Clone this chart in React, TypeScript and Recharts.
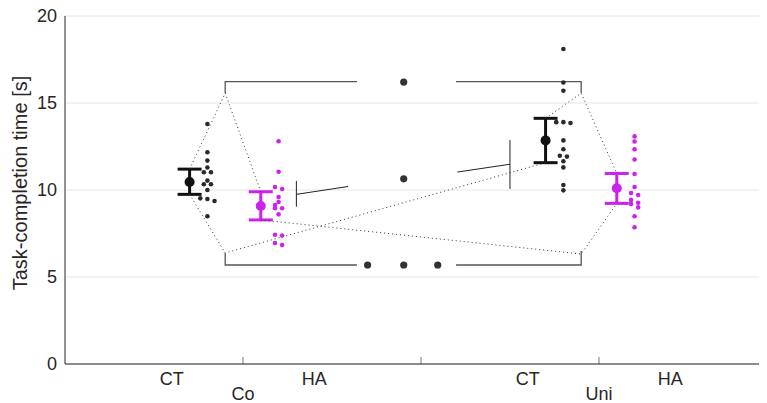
import React from 'react';
import { ComposedChart, Scatter, XAxis, YAxis, CartesianGrid, ErrorBar, ReferenceLine } from 'recharts';

// ---- data ----
const groups = ['Co', 'Uni'];
const groupCenters = [1, 3];
const conditions = ['CT', 'HA'];
const conditionTickPos = [0.6, 1.4, 2.6, 3.4];
const dividerTicks = [1, 2, 3];
const yTicks = [0, 5, 10, 15, 20];

// individual participants (seconds) and beeswarm offsets
const coCTTimes = [13.79, 12.17, 11.69, 11.29, 11.02, 11.02, 10.54, 10.33, 10.33, 10.0, 9.52, 9.48, 9.37, 8.49];
const coCTJitter = [0, 0, 0, 0, -0.02, 0.02, 0, -0.02, 0.02, 0, -0.04, 0, 0.04, 0];
const coHATimes = [12.8, 11.05, 10.17, 10.06, 9.6, 9.31, 9.14, 8.95, 8.95, 8.6, 7.43, 7.38, 6.95, 6.84];
const coHAJitter = [0, 0, -0.02, 0.02, 0, 0, -0.02, -0.02, 0.02, 0, -0.02, 0.02, -0.02, 0.02];
const uniCTTimes = [18.1, 16.18, 15.7, 13.9, 13.9, 13.85, 12.85, 12.34, 11.97, 11.92, 11.65, 11.3, 10.29, 9.98];
const uniCTJitter = [0, 0, 0, -0.04, 0, 0.04, 0, 0, -0.02, 0.02, 0, 0, 0, 0];
const uniHATimes = [13.08, 12.79, 12.34, 11.75, 10.92, 10.17, 9.83, 9.71, 9.43, 9.27, 9.2, 9.0, 8.49, 7.86];
const uniHAJitter = [0, 0, 0, 0, 0, 0, -0.02, 0.02, -0.02, 0.02, -0.02, 0.02, 0, 0];

// means and confidence intervals [lower, upper]
const meanX = [0.7, 1.1, 2.7, 3.1];
const meanValues = [10.46, 9.08, 12.85, 10.1];
const ciLower = [9.75, 8.28, 11.57, 9.23];
const ciUpper = [11.2, 9.9, 14.12, 10.95];
const swarmX = [0.8, 1.2, 2.8, 3.2];

// annotation geometry in data units
const bracketTopLeft = [{ x: 0.9, y: 15.57 }, { x: 0.9, y: 16.23 }, { x: 1.64, y: 16.23 }];
const bracketTopRight = [{ x: 2.197, y: 16.23 }, { x: 2.9, y: 16.23 }, { x: 2.9, y: 15.57 }];
const bracketBottomLeft = [{ x: 0.9, y: 6.38 }, { x: 0.9, y: 5.69 }, { x: 1.64, y: 5.69 }];
const bracketBottomRight = [{ x: 2.197, y: 5.69 }, { x: 2.9, y: 5.69 }, { x: 2.9, y: 6.5 }];
const markerDots = [{ x: 1.903, y: 16.2 }, { x: 1.903, y: 10.64 }, { x: 1.7, y: 5.69 }, { x: 1.903, y: 5.69 }, { x: 2.094, y: 5.69 }];
const slopeLeftBar = [{ x: 1.3, y: 10.52 }, { x: 1.3, y: 9.04 }];
const slopeLeftLine = [{ x: 1.3, y: 9.75 }, { x: 1.59, y: 10.2 }];
const slopeRightLine = [{ x: 2.204, y: 11.03 }, { x: 2.5, y: 11.48 }];
const slopeRightBar = [{ x: 2.5, y: 12.87 }, { x: 2.5, y: 10.06 }];
const dottedA = [{ x: 0.7, y: 11.2 }, { x: 0.9, y: 15.57 }, { x: 1.1, y: 9.9 }];
const dottedB = [{ x: 0.7, y: 9.75 }, { x: 0.9, y: 6.38 }, { x: 2.7, y: 11.57 }];
const dottedC = [{ x: 2.7, y: 14.12 }, { x: 2.9, y: 15.57 }, { x: 3.1, y: 10.95 }];
const dottedD = [{ x: 1.1, y: 8.28 }, { x: 2.9, y: 6.32 }, { x: 3.1, y: 9.23 }];

const BLACK = '#111111';
const DOT = '#2a2a2a';
const MAGENTA = '#cc22ee';
const FONT = '"Liberation Sans", Arial, Helvetica, sans-serif';

const swarm = (times: number[], jitter: number[], base: number) =>
  times.map((y, i) => ({ x: base + jitter[i], y }));

const meanData = meanX.map((x, i) => ({
  x,
  y: meanValues[i],
  err: [meanValues[i] - ciLower[i], ciUpper[i] - meanValues[i]],
}));

const swarms = [
  { data: swarm(coCTTimes, coCTJitter, swarmX[0]), color: DOT },
  { data: swarm(coHATimes, coHAJitter, swarmX[1]), color: MAGENTA },
  { data: swarm(uniCTTimes, uniCTJitter, swarmX[2]), color: DOT },
  { data: swarm(uniHATimes, uniHAJitter, swarmX[3]), color: MAGENTA },
];

const tickLabel = (v: number) => {
  const gi = groupCenters.indexOf(v);
  if (gi >= 0) return { text: groups[gi], group: true };
  const ci = conditionTickPos.indexOf(v);
  return { text: conditions[ci % 2], group: false };
};

const XTick = (props: any) => {
  const { x, y, payload } = props;
  const t = tickLabel(payload.value);
  return (
    <text x={x} y={t.group ? y + 15 : y} dy="0.71em" textAnchor="middle" fill="#262626" fontSize={18} fontFamily={FONT}>
      {t.text}
    </text>
  );
};

const YLabel = () => (
  <text
    x={12}
    y={183}
    transform="rotate(-90, 12, 183)"
    textAnchor="middle"
    dominantBaseline="central"
    fill="#262626"
    fontSize={20}
    fontFamily={FONT}
  >
    Task-completion time [s]
  </text>
);

const noShape = () => <g />;
const dotShape = (r: number, color: string) => (p: any) => <circle cx={p.cx} cy={p.cy} r={r} fill={color} />;

const lineSeries = (data: any[], key: string, stroke: string, dash?: string, w = 1) => (
  <Scatter
    key={key}
    data={data}
    shape={noShape}
    line={{ stroke, strokeWidth: w, strokeDasharray: dash }}
    isAnimationActive={false}
  />
);

export default function App() {
  return (
    <div style={{ marginTop: -8, width: 759, height: 403 }}>
      <ComposedChart width={759} height={403} margin={{ top: 16, right: 0, bottom: 0, left: 0 }}>
        <CartesianGrid vertical={false} stroke="#e6e6e6" strokeWidth={1} />
        <XAxis
          type="number"
          dataKey="x"
          domain={[0, 3.944]}
          allowDataOverflow
          ticks={[0.6, 1, 1.4, 2.6, 3, 3.4]}
          interval={0}
          tickLine={false}
          axisLine={{ stroke: '#262626' }}
          tick={<XTick />}
          height={39}
        />
        <YAxis
          type="number"
          dataKey="y"
          domain={[0, 20]}
          ticks={yTicks}
          interval={0}
          tickLine={false}
          axisLine={{ stroke: '#262626' }}
          tick={{ fill: '#262626', fontSize: 18, fontFamily: FONT }}
          width={57}
          label={<YLabel />}
        />
        {dividerTicks.map((t) => (
          <ReferenceLine key={'d' + t} segment={[{ x: t, y: 0 }, { x: t, y: 0.4 }]} stroke="#777" strokeWidth={1} />
        ))}
        {lineSeries(dottedA, 'dA', '#333', '1 3')}
        {lineSeries(dottedB, 'dB', '#333', '1 3')}
        {lineSeries(dottedC, 'dC', '#333', '1 3')}
        {lineSeries(dottedD, 'dD', '#333', '1 3')}
        {lineSeries(bracketTopLeft, 'b1', '#555', undefined, 1.3)}
        {lineSeries(bracketTopRight, 'b2', '#555', undefined, 1.3)}
        {lineSeries(bracketBottomLeft, 'b3', '#555', undefined, 1.3)}
        {lineSeries(bracketBottomRight, 'b4', '#555', undefined, 1.3)}
        {lineSeries(slopeLeftBar, 's1', '#222')}
        {lineSeries(slopeLeftLine, 's2', '#222')}
        {lineSeries(slopeRightLine, 's3', '#222')}
        {lineSeries(slopeRightBar, 's4', '#222')}
        <Scatter data={markerDots} shape={dotShape(3.6, '#333')} isAnimationActive={false} />
        {swarms.map((s, i) => (
          <Scatter key={'sw' + i} data={s.data} shape={dotShape(2.3, s.color)} isAnimationActive={false} />
        ))}
        {meanData.map((m, i) => (
          <Scatter key={'m' + i} data={[m]} shape={dotShape(5, i % 2 === 0 ? BLACK : MAGENTA)} isAnimationActive={false}>
            <ErrorBar dataKey="err" direction="y" width={12} strokeWidth={3} stroke={i % 2 === 0 ? BLACK : MAGENTA} />
          </Scatter>
        ))}
      </ComposedChart>
    </div>
  );
}
